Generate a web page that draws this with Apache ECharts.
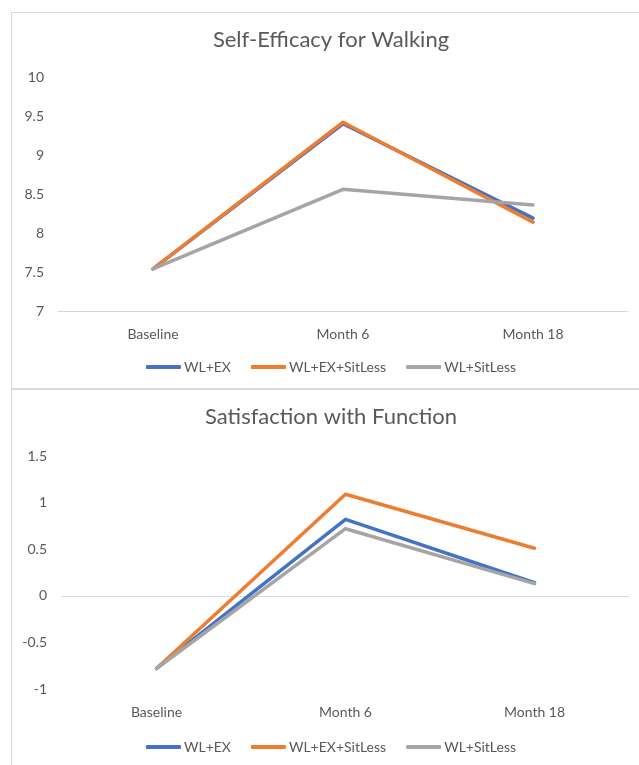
<!DOCTYPE html>
<html>
<head>
<meta charset="utf-8">
<script src="https://cdn.jsdelivr.net/npm/echarts@6/dist/echarts.min.js"></script>
<style>
  html, body { margin: 0; padding: 0; background: #ffffff; width: 639px; height: 765px; overflow: hidden; }
  .panel { position: absolute; left: 11px; width: 640px; border: 1px solid #d9d9d9; box-sizing: border-box; background: #fff; }
  #walk { top: 12px; height: 377px; }
  #func { top: 389px; height: 390px; }
</style>
</head>
<body>
<div id="walk" class="panel"></div>
<div id="func" class="panel"></div>
<script>
// Time points shared by both panels
const timepoints = ['Baseline', 'Month 6', 'Month 18'];
const groupNames = ['WL+EX', 'WL+EX+SitLess', 'WL+SitLess'];
const groupColors = ['#4472C4', '#ED7D31', '#A5A5A5'];

// Self-Efficacy for Walking (mean score)
const walkWlEx = [7.54, 9.40, 8.19];
const walkWlExSitLess = [7.54, 9.42, 8.14];
const walkWlSitLess = [7.54, 8.56, 8.36];

// Satisfaction with Function (mean score)
const funcWlEx = [-0.78, 0.82, 0.14];
const funcWlExSitLess = [-0.78, 1.09, 0.51];
const funcWlSitLess = [-0.78, 0.72, 0.13];

const FONT = 'Lato, "Liberation Sans", sans-serif';
const TEXT = '#595959';
const RULE = '#d9d9d9';

function makeSeries(values, withZeroLine) {
  return values.map((data, i) => {
    const s = {
      name: groupNames[i],
      type: 'line',
      data: data,
      showSymbol: false,
      symbol: 'none',
      lineStyle: { width: 3.5, color: groupColors[i], cap: 'round', join: 'round' },
      itemStyle: { color: groupColors[i] },
      z: 3 + i
    };
    if (withZeroLine && i === 0) {
      s.markLine = {
        silent: true,
        symbol: 'none',
        label: { show: false },
        lineStyle: { color: RULE, width: 1, type: 'solid' },
        z: 1,
        data: [{ yAxis: 0 }]
      };
    }
    return s;
  });
}

function baseOption(title, grid, yMin, yMax, showXLine) {
  return {
    animation: false,
    backgroundColor: '#ffffff',
    textStyle: { fontFamily: FONT },
    title: {
      text: title,
      left: 'center',
      top: 11,
      textStyle: { fontFamily: FONT, fontSize: 22, fontWeight: 'normal', color: TEXT }
    },
    legend: {
      data: groupNames,
      left: 'center',
      top: grid.legendTop,
      icon: 'roundRect',
      itemWidth: 35,
      itemHeight: 4,
      itemGap: 20,
      textStyle: { fontFamily: FONT, fontSize: 14, color: TEXT, padding: [0, 0, 0, -2] }
    },
    grid: { left: grid.left, top: grid.top, width: grid.width, height: grid.height, containLabel: false },
    xAxis: {
      type: 'category',
      data: timepoints,
      boundaryGap: true,
      axisLine: { show: showXLine, onZero: false, lineStyle: { color: RULE, width: 1 } },
      axisTick: { show: false },
      axisLabel: { fontFamily: FONT, fontSize: 14, color: TEXT, margin: 16 }
    },
    yAxis: {
      type: 'value',
      min: yMin,
      max: yMax,
      interval: 0.5,
      axisLine: { show: false },
      axisTick: { show: false },
      splitLine: { show: false },
      axisLabel: { fontFamily: FONT, fontSize: 14, color: TEXT, margin: grid.labelMargin }
    }
  };
}

const walkChart = echarts.init(document.getElementById('walk'), null, { renderer: 'canvas' });
const walkOpt = baseOption('Self-Efficacy for Walking',
  { left: 46, top: 64, width: 570, height: 234, legendTop: 342, labelMargin: 14 }, 7, 10, true);
walkOpt.series = makeSeries([walkWlEx, walkWlExSitLess, walkWlSitLess], false);
walkChart.setOption(walkOpt);

const funcChart = echarts.init(document.getElementById('func'), null, { renderer: 'canvas' });
const funcOpt = baseOption('Satisfaction with Function',
  { left: 50, top: 66, width: 567, height: 233, legendTop: 345, labelMargin: 15 }, -1, 1.5, false);
funcOpt.series = makeSeries([funcWlEx, funcWlExSitLess, funcWlSitLess], true);
funcChart.setOption(funcOpt);
</script>
</body>
</html>
